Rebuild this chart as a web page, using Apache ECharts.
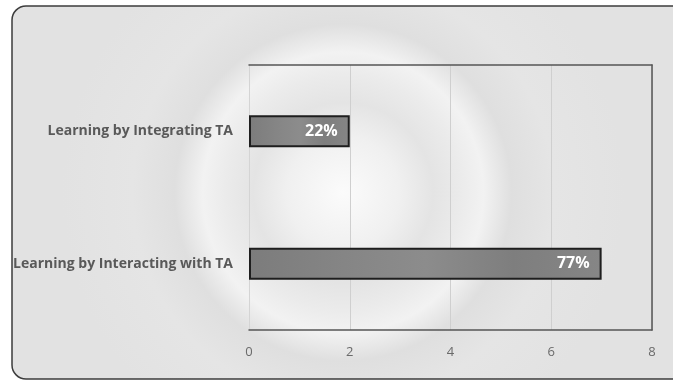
<!DOCTYPE html>
<html>
<head>
<meta charset="utf-8">
<script src="https://cdn.jsdelivr.net/npm/echarts@6/dist/echarts.min.js"></script>
<style>
  html, body { margin: 0; padding: 0; background: #fff; }
  #chart { width: 673px; height: 381px; }
</style>
</head>
<body>
<div id="chart"></div>
<script>
// categories top to bottom
var categories = ['Learning by Integrating TA', 'Learning by Interacting with TA'];
var values = [2, 7];
var barLabels = ['22%', '77%'];

var chart = echarts.init(document.getElementById('chart'));

var barFill = new echarts.graphic.LinearGradient(0, 0, 1, 0, [
    { offset: 0, color: '#7c7c7c' },
    { offset: 0.3, color: '#868686' },
    { offset: 0.5, color: '#8c8c8c' },
    { offset: 0.75, color: '#7e7e7e' },
    { offset: 1, color: '#868686' }
]);

var bg = new echarts.graphic.RadialGradient(0.46, 0.5, 0.75, [
    { offset: 0, color: '#fbfbfb' },
    { offset: 0.2, color: '#f0f0f0' },
    { offset: 0.32, color: '#e4e4e4' },
    { offset: 0.42, color: '#ebebeb' },
    { offset: 0.5, color: '#f2f2f2' },
    { offset: 0.6, color: '#dfdfdf' },
    { offset: 0.75, color: '#e5e5e5' },
    { offset: 1, color: '#e2e2e2' }
]);

chart.setOption({
    animation: false,
    backgroundColor: '#ffffff',
    graphic: [{
        type: 'rect',
        z: -10,
        shape: { x: 12, y: 6, width: 720, height: 373, r: 14 },
        style: { fill: bg, stroke: '#3c3c3c', lineWidth: 1.5 }
    }],
    grid: {
        left: 249,
        right: 21,
        top: 65,
        bottom: 51,
        containLabel: false
    },
    xAxis: [{
        type: 'value',
        min: 0,
        max: 8,
        interval: 2,
        position: 'bottom',
        axisLine: { show: true, onZero: false, lineStyle: { color: '#555555', width: 1.5 } },
        axisTick: { show: false },
        axisLabel: {
            color: '#6a6a6a',
            fontFamily: 'Open Sans',
            fontSize: 13,
            margin: 16
        },
        splitLine: { show: true, lineStyle: { color: '#cfcfcf', width: 1 } }
    }, {
        type: 'value',
        min: 0,
        max: 8,
        interval: 2,
        position: 'top',
        axisLine: { show: true, onZero: false, lineStyle: { color: '#555555', width: 1.5 } },
        axisTick: { show: false },
        axisLabel: { show: false },
        splitLine: { show: false }
    }],
    yAxis: [{
        type: 'category',
        data: categories,
        inverse: true,
        position: 'left',
        axisLine: { show: true, onZero: false, lineStyle: { color: '#d4d4d4', width: 1 } },
        axisTick: { show: false },
        axisLabel: {
            color: '#595959',
            fontFamily: 'Open Sans',
            fontWeight: 'bold',
            fontSize: 14,
            margin: 16
        }
    }, {
        type: 'category',
        data: categories,
        inverse: true,
        position: 'right',
        axisLine: { show: true, onZero: false, lineStyle: { color: '#555555', width: 1.5 } },
        axisTick: { show: false },
        axisLabel: { show: false }
    }],
    series: [{
        type: 'bar',
        data: values,
        barWidth: 32,
        itemStyle: {
            color: barFill,
            borderColor: '#1e1e1e',
            borderWidth: 2
        },
        label: {
            show: true,
            position: 'insideRight',
            distance: 12,
            color: '#ffffff',
            fontFamily: 'Open Sans',
            fontWeight: 'bold',
            fontSize: 16,
            formatter: function (p) { return barLabels[p.dataIndex]; }
        }
    }]
});
</script>
</body>
</html>
